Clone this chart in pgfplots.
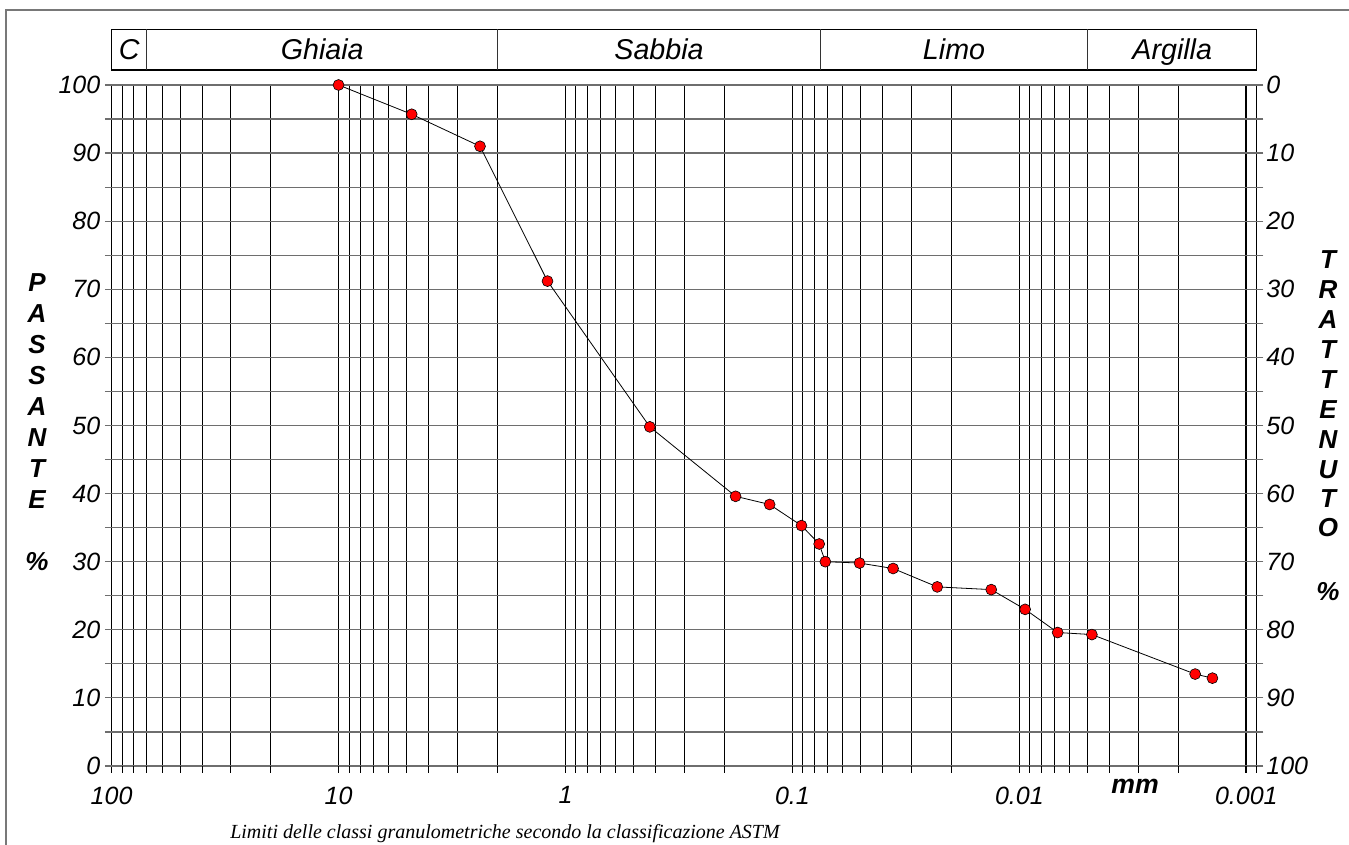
\documentclass[border=0pt]{standalone}
\usepackage{pgfplots}
\pgfplotsset{compat=1.18}
\usepackage{fontspec}
\setmainfont{Liberation Sans}
\newfontfamily\seriffont{Liberation Serif}
\definecolor{gridgray}{RGB}{110,110,110}
\definecolor{framegray}{RGB}{120,120,120}
\begin{document}
\begin{tikzpicture}
\path[use as bounding box] (0,0) rectangle (1011.75pt,633.75pt);
\draw[framegray, line width=1.1pt] (4.5pt,0) -- (4.5pt,626.25pt) -- (1011.75pt,626.25pt);
\begin{axis}[
  at={(83.7pt,59.25pt)}, anchor=south west,
  scale only axis, width=858.8pt, height=510.75pt,
  xmode=log, x dir=reverse,
  xmin=0.0009, xmax=100, ymin=0, ymax=100,
  clip=false,
  xtick={0.001,0.01,0.1,1,10,100},
  xticklabels={0.001,0.01,0.1,1,10,100},
  minor xtick={0.0009,0.002,0.003,0.004,0.005,0.006,0.007,0.008,0.009,
    0.02,0.03,0.04,0.05,0.06,0.07,0.08,0.09,
    0.2,0.3,0.4,0.5,0.6,0.7,0.8,0.9,
    2,3,4,5,6,7,8,9,20,30,40,50,60,70,80,90},
  ytick={0,10,20,30,40,50,60,70,80,90,100},
  yticklabels={0,10,20,30,40,50,60,70,80,90,100},
  minor ytick={5,15,25,35,45,55,65,75,85,95},
  grid=both,
  major x grid style={black, line width=1.2pt},
  minor x grid style={black, line width=0.6pt},
  major y grid style={gridgray, line width=0.9pt},
  minor y grid style={gridgray, line width=0.9pt},
  axis line style={draw=none},
  tick align=outside,
  xtick pos=left,
  ytick pos=both,
  yticklabel pos=left,
  major tick length=5pt, minor tick length=5pt,
  every major x tick/.append style={black, line width=1.2pt},
  every minor x tick/.append style={black, line width=0.6pt},
  every major y tick/.append style={gridgray, line width=0.9pt},
  every minor y tick/.append style={gridgray, line width=0.9pt},
  ticklabel style={font=\itshape\fontsize{18.75}{20}\selectfont},
  xticklabel style={yshift=-7pt},
]
\addplot[black, line width=0.6pt, mark=*, mark size=4.1pt,
  mark options={fill=red, draw=black, line width=0.45pt}] coordinates {
  (10,100) (4.76,95.7) (2.38,91.0) (1.2,71.2) (0.425,49.8)
  (0.178,39.6) (0.126,38.4) (0.0912,35.3) (0.0762,32.6) (0.0716,30.0)
  (0.0506,29.8) (0.036,29.0) (0.0230,26.3) (0.0133,25.9) (0.00943,23.0)
  (0.00678,19.6) (0.00479,19.3) (0.00168,13.5) (0.00141,12.9)
};
% classification band
\draw[black, line width=0.8pt] (axis cs:100,102.2) rectangle (axis cs:0.0009,108.18);
\draw[black!80, line width=0.7pt] (axis cs:70,102.2) -- (axis cs:70,108.18);
\draw[black!80, line width=0.7pt] (axis cs:2,102.2) -- (axis cs:2,108.18);
\draw[black!80, line width=0.7pt] (axis cs:0.075,102.2) -- (axis cs:0.075,108.18);
\draw[black!80, line width=0.7pt] (axis cs:0.005,102.2) -- (axis cs:0.005,108.18);
\begin{scope}[every node/.style={anchor=base, font=\itshape\fontsize{21.5}{24}\selectfont}]
\node at (axis cs:83.7,103.7) {C};
\node at (axis cs:11.8,103.7) {Ghiaia};
\node at (axis cs:0.387,103.7) {Sabbia};
\node at (axis cs:0.0194,103.7) {Limo};
\node at (axis cs:0.00212,103.7) {Argilla};
\end{scope}
% right axis labels (trattenuto)
\begin{scope}[every node/.style={anchor=west, xshift=3.75pt, font=\itshape\fontsize{18.75}{20}\selectfont}]
\node at (axis cs:0.0009,100) {0};
\node at (axis cs:0.0009,90) {10};
\node at (axis cs:0.0009,80) {20};
\node at (axis cs:0.0009,70) {30};
\node at (axis cs:0.0009,60) {40};
\node at (axis cs:0.0009,50) {50};
\node at (axis cs:0.0009,40) {60};
\node at (axis cs:0.0009,30) {70};
\node at (axis cs:0.0009,20) {80};
\node at (axis cs:0.0009,10) {90};
\node at (axis cs:0.0009,0) {100};
\end{scope}
\end{axis}
% vertical titles
\begin{scope}[every node/.style={font=\bfseries\itshape\fontsize{19.5}{21}\selectfont}]
\node at (27.75pt,421.5pt) {P};
\node at (27.75pt,398.25pt) {A};
\node at (27.75pt,375pt) {S};
\node at (27.75pt,351.75pt) {S};
\node at (27.75pt,328.5pt) {A};
\node at (27.75pt,305.25pt) {N};
\node at (27.75pt,282pt) {T};
\node at (27.75pt,258.75pt) {E};
\node at (27.75pt,212.25pt) {\%};
\node at (996pt,438.75pt) {T};
\node at (996pt,416.25pt) {R};
\node at (996pt,393.75pt) {A};
\node at (996pt,371.25pt) {T};
\node at (996pt,348.75pt) {T};
\node at (996pt,326.25pt) {E};
\node at (996pt,303.75pt) {N};
\node at (996pt,281.25pt) {U};
\node at (996pt,259.5pt) {T};
\node at (996pt,237.75pt) {O};
\node at (996pt,189.75pt) {\%};
\end{scope}
\node[font=\bfseries\itshape\fontsize{20}{22}\selectfont] at (851.25pt,44pt) {mm};
\node[font=\seriffont\itshape\fontsize{15}{17}\selectfont] at (378.75pt,8.5pt) {Limiti delle classi granulometriche secondo la classificazione ASTM};
\end{tikzpicture}
\end{document}
